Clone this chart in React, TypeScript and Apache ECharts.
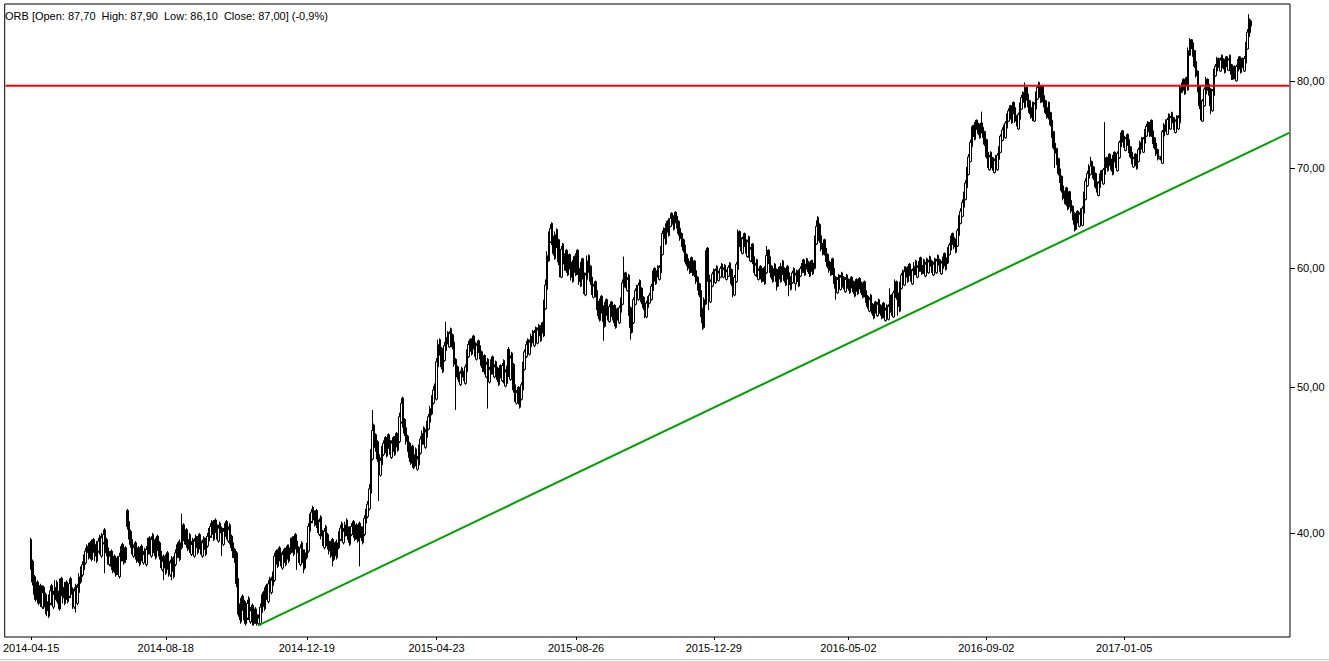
import React, { useEffect, useRef } from "react";
import * as echarts from "echarts";

// ---- texts ----
const headerText = "ORB [Open: 87,70  High: 87,90  Low: 86,10  Close: 87,00] (-0,9%)";
const firstDate = "2014-04-15";
const xLabelDates = ["2014-04-15", "2014-08-18", "2014-12-19", "2015-04-23", "2015-08-26", "2015-12-29", "2016-05-02", "2016-09-02", "2017-01-05"];
const holidays = [
  "2014-04-18", "2014-04-21", "2014-05-01", "2014-06-19", "2014-08-15", "2014-11-11", "2014-12-24", "2014-12-25", "2014-12-26", "2014-12-31",
  "2015-01-01", "2015-01-06", "2015-04-03", "2015-04-06", "2015-05-01", "2015-06-04", "2015-11-11", "2015-12-24", "2015-12-25", "2015-12-31",
  "2016-01-01", "2016-01-06", "2016-03-25", "2016-03-28", "2016-05-03", "2016-05-26", "2016-08-15", "2016-11-01", "2016-11-11", "2016-12-26",
  "2017-01-06", "2017-04-14", "2017-04-17", "2017-05-01", "2017-05-03",
];
const yTickValues = [40, 50, 60, 70, 80];
const yTickLabels = ["40,00", "50,00", "60,00", "70,00", "80,00"];
const yMin = 34.1;
const yMax = 90.0;
const resistanceLevel = 79.4;
// trend line: [candle index, price]; second point lies at the right edge of the plot
const trendLine = [[142, 34.73], [785, 73.87]];

// ---- daily candles, prices in tenths: [open, close, low, high] ----
const ohlc2014 = [
  [396,380,378,397],[383,371,369,384],[374,364,361,375],[361,368,360,371],[371,362,359,372],[359,366,358,368],[369,360,357,370],[357,365,356,369],[368,361,356,369],[364,357,353,365],
  [360,355,352,361],[352,362,351,364],[359,366,358,369],[369,360,358,370],[357,364,356,366],[361,368,360,372],[371,362,360,372],[365,359,356,366],[356,370,355,373],[373,365,363,374],
  [368,362,359,369],[359,368,358,371],[371,363,361,372],[360,366,359,368],[363,370,362,373],[373,364,362,374],[367,360,356,368],[357,366,356,368],[369,362,354,370],[359,368,358,370],
  [365,374,364,376],[371,378,370,380],[375,381,374,383],[378,385,377,387],[382,389,381,391],[392,388,385,393],[385,391,384,394],[394,387,384,395],[384,393,383,396],[396,390,388,397],
  [393,386,383,394],[383,392,382,395],[389,395,388,397],[398,389,387,399],[386,397,385,400],[394,399,393,402],[402,393,376,403],[396,388,386,397],[391,384,381,392],[381,386,380,389],
  [389,380,378,390],[377,383,376,385],[386,378,376,387],[375,382,374,384],[385,377,375,386],[374,386,373,388],[383,390,382,392],[393,385,383,394],[382,388,381,391],[391,384,382,392],
  [414,404,402,415],[407,398,396,408],[401,393,391,402],[396,389,387,397],[386,391,385,393],[394,386,384,395],[383,388,382,390],[391,384,382,392],[381,389,380,391],[392,385,383,393],
  [382,387,381,389],[390,384,382,391],[381,390,380,392],[387,394,386,397],[397,389,387,398],[386,396,385,398],[399,392,390,400],[395,388,386,396],[385,395,384,397],[398,391,389,399],
  [394,386,384,395],[389,381,379,390],[378,383,377,386],[386,379,372,387],[376,385,375,387],[388,380,378,389],[383,378,374,384],[375,382,374,384],[385,377,372,386],[374,384,373,386],
  [381,388,380,390],[385,391,384,393],[394,387,385,395],[384,394,383,396],[391,402,390,412],[405,397,395,406],[394,399,393,401],[402,393,391,403],[390,396,389,398],[399,390,388,400],
  [387,393,386,395],[396,389,387,397],[386,395,385,397],[398,391,389,399],[388,396,387,398],[399,392,390,400],[395,389,387,396],[386,394,385,396],[397,390,388,398],[387,395,386,397],
  [392,398,391,400],[395,401,394,403],[398,404,397,406],[407,399,397,408],[396,405,395,408],[408,402,400,409],[405,398,396,406],[395,403,394,405],[406,400,398,407],[403,396,386,404],
  [393,401,392,403],[398,404,397,406],[407,398,396,408],[395,402,394,404],[405,395,393,406],[398,391,389,399],[394,387,385,395],[390,385,382,391],[388,370,368,389],[373,355,353,374],
  [358,352,350,359],[349,360,348,362],[363,357,355,364],[360,350,348,361],[348,354,347,356],[351,359,350,361],[362,352,350,363],[349,355,348,357],[358,349,347,359],[348,353,347,355],
  [356,350,348,357],[353,348,347,354],[348,351,347,353],[348,357,347,359],[354,362,353,364],[365,359,357,366],[356,366,355,368],[369,363,361,370],[360,370,359,372],[373,368,366,374],
  [365,372,364,374],[369,375,368,377],[372,386,371,388],[389,383,381,390],[380,388,379,390],[391,385,383,392],[388,382,380,389],[379,387,378,389],[390,384,382,391],[381,389,380,391],
  [392,386,384,393],[383,391,382,393],[388,394,387,397],[397,390,388,398],[387,396,386,398],[399,392,390,400],[395,388,378,396],[391,384,382,392],[381,391,380,393],[394,386,384,395],
  [389,382,376,390],[379,388,378,390],[385,392,384,394],[389,404,388,406],[401,410,400,412],[407,413,406,415],[416,408,406,417],
];
const ohlc2015 = [
  [405,411,404,414],[414,405,403,415],[408,402,400,409],
  [399,407,398,409],[410,398,396,411],[401,394,392,402],[391,401,390,403],[404,396,394,405],[399,392,390,400],[395,389,387,396],[386,393,385,395],[396,387,380,397],[384,391,383,393],
  [394,388,386,395],[385,394,384,396],[391,399,390,401],[396,403,395,405],[406,397,395,407],[394,401,393,403],[398,405,397,407],[408,400,398,409],[403,396,394,404],[393,402,392,404],
  [399,404,398,406],[407,399,397,408],[396,402,395,404],[405,398,396,406],[395,403,394,405],[406,400,380,407],[403,397,395,404],[394,402,393,404],[399,409,398,411],[406,413,405,415],
  [410,418,409,420],[415,428,414,431],[425,452,424,455],[448,468,447,483],[472,461,459,473],[465,456,453,466],[460,448,446,461],[451,440,420,452],[437,447,436,449],[444,455,443,457],
  [451,459,450,461],[463,454,452,464],[450,461,449,463],[465,457,455,466],[461,453,451,462],[449,459,448,461],[463,455,453,464],[451,462,450,464],[466,458,456,467],[454,464,453,466],
  [460,478,459,481],[474,488,473,492],[492,472,470,493],[476,466,464,477],[470,460,458,471],[464,455,453,465],[459,449,446,460],[445,453,444,455],[457,446,442,458],[442,451,441,453],
  [455,445,443,456],[441,448,440,450],[444,456,443,458],[452,462,451,464],[458,466,457,468],[470,460,458,471],[456,467,455,469],[463,473,462,475],[469,478,468,480],[474,484,473,486],
  [480,492,479,494],[488,498,487,501],[502,495,493,503],[491,520,490,523],[516,534,515,538],[538,527,525,539],[531,516,514,532],[512,525,511,528],[521,533,520,536],[529,540,528,553],
  [544,536,534,545],[532,543,531,545],[547,538,536,548],[542,532,530,543],[536,518,516,537],[522,512,483,523],[516,508,506,517],[512,506,504,513],[502,511,501,513],[515,508,506,516],
  [512,507,505,513],[503,516,502,518],[512,528,511,530],[524,534,523,537],[538,530,528,539],[526,537,525,539],[541,532,530,542],[536,526,524,537],[522,533,521,535],[537,529,527,538],
  [533,524,522,534],[528,517,515,529],[513,521,512,523],[525,512,510,526],[508,518,507,520],[522,508,484,523],[504,514,503,516],[510,520,509,522],[524,512,510,525],[508,516,507,518],
  [520,511,509,521],[515,506,504,516],[502,513,501,515],[517,509,507,518],[505,517,504,519],[521,505,503,522],[501,512,500,514],[516,503,501,517],[530,510,508,532],[506,523,505,525],
  [527,514,512,528],[518,498,496,519],[502,492,489,503],[488,496,487,498],[500,489,487,501],[485,495,484,497],[491,502,490,504],[498,518,497,520],[514,528,513,530],[524,534,523,537],
  [538,530,528,539],[526,536,525,538],[532,541,531,543],[545,537,535,546],[533,544,532,546],[548,539,537,549],[535,546,534,548],[550,541,539,551],[537,548,536,550],[552,545,543,553],
  [541,568,540,572],[564,585,563,590],[581,612,580,616],[607,630,606,635],[625,638,624,642],[643,625,622,644],[630,614,612,631],[609,632,608,635],[637,622,619,638],[627,606,603,628],
  [611,596,592,612],[592,618,591,621],[623,604,602,624],[599,612,598,614],[617,598,596,618],[594,608,593,610],[613,601,599,614],[606,592,589,607],[588,606,587,608],[611,598,596,612],
  [594,612,593,614],[617,596,594,618],[600,588,585,601],[584,604,583,606],[609,592,590,610],[596,580,577,597],[576,594,575,596],[590,607,589,612],[612,598,596,613],[602,588,585,603],
  [592,578,576,593],[574,584,573,586],[588,576,574,589],[580,566,563,581],[570,558,555,571],[554,571,553,573],[575,562,560,576],[566,553,537,567],[549,568,548,570],[572,560,558,573],
  [564,557,554,565],[553,566,552,568],[570,559,557,571],[555,563,554,565],[567,552,549,568],[548,560,547,562],[564,556,554,565],[552,565,551,567],[561,572,560,574],[568,587,567,590],
  [583,592,582,611],[596,584,582,597],[580,590,579,592],[594,561,558,595],[565,548,538,566],[544,556,543,558],[552,572,551,574],[568,580,567,582],[584,576,574,585],[572,585,571,587],
  [589,578,576,590],[582,570,568,583],[574,565,563,575],[569,561,556,570],[557,569,556,571],[565,573,564,575],[569,576,568,578],[572,584,571,586],[580,596,579,598],[600,590,588,601],
  [586,598,585,600],[602,594,592,603],[590,601,589,603],[596,618,595,621],[613,633,612,636],[638,628,626,639],[623,640,622,643],[645,636,634,646],[631,645,630,648],[640,648,639,653],
  [653,642,640,654],[637,649,636,651],[654,645,643,655],[650,640,638,651],[645,633,631,646],[638,628,626,639],[633,622,620,634],[627,617,615,628],[622,608,606,623],[613,604,602,614],
  [609,600,598,610],[596,605,595,607],[610,598,596,611],[594,602,593,604],[607,594,592,608],[598,588,586,599],[592,582,580,593],[586,576,574,587],[580,560,557,581],[564,552,546,565],
  [548,572,547,574],[568,614,567,617],[619,590,588,620],[594,574,563,595],[570,588,569,590],[584,595,583,597],[599,591,589,600],[587,598,586,600],
];
const ohlc2016 = [
  [602,593,591,603],[589,596,588,598],
  [592,600,591,602],[604,596,594,605],[592,599,591,601],[603,594,592,604],[590,597,589,599],[593,601,592,603],[605,595,593,606],[599,586,584,600],[590,580,574,591],[576,592,575,594],
  [588,604,587,606],[599,630,598,637],[635,624,620,636],[629,619,616,630],[614,628,613,630],[633,622,620,634],[627,616,614,628],[611,625,610,627],[630,612,610,631],[607,618,606,620],
  [623,606,604,624],[611,598,596,612],[594,603,593,605],[608,594,592,609],[590,598,589,600],[602,592,590,603],[588,596,587,598],[600,590,588,601],[586,600,585,602],[596,612,595,621],
  [617,606,604,618],[611,598,596,612],[602,592,590,603],[588,600,587,602],[604,595,593,605],[599,588,580,600],[584,597,583,599],[601,592,590,602],[588,602,587,605],[607,596,594,608],
  [600,589,587,601],[585,598,584,600],[602,592,590,603],[596,585,575,597],[581,591,580,593],[587,596,586,598],[600,590,588,601],[586,594,580,596],[598,588,586,599],[584,597,583,599],
  [593,600,592,602],[596,603,595,605],[608,598,596,609],[594,604,593,606],[609,601,599,610],[606,597,595,607],[593,602,592,604],[607,599,597,608],[595,605,594,608],[600,628,599,631],
  [623,640,622,646],[649,637,635,650],[642,626,624,643],[631,618,616,632],[613,622,612,624],[627,614,612,628],[619,608,606,620],[613,602,600,614],[607,598,596,608],[594,604,593,606],
  [609,596,594,610],[600,588,586,601],[592,582,572,593],[578,590,577,592],[594,585,583,595],[581,592,580,594],[596,588,586,597],[592,583,581,593],[579,590,578,592],[594,586,584,595],
  [590,582,580,591],[578,588,577,590],[592,584,582,593],[588,579,577,589],[575,586,574,588],[590,581,579,591],[577,587,576,589],[591,583,581,592],[587,578,576,588],[574,584,573,586],
  [588,576,574,589],[580,571,569,581],[575,566,564,576],[562,572,561,574],[576,564,562,577],[568,560,558,569],[556,566,555,568],[570,562,560,571],[558,568,557,570],[572,563,561,573],
  [567,560,558,568],[556,565,555,567],[569,558,556,570],[554,563,553,565],[567,559,556,568],[555,566,554,568],[562,572,561,582],[576,561,558,577],[557,578,556,580],[574,584,573,590],
  [588,574,572,589],[578,566,558,579],[562,586,561,588],[582,594,581,596],[598,589,587,599],[585,597,584,602],[601,592,590,602],[588,600,587,602],[604,595,593,605],[599,590,588,600],
  [586,598,585,600],[594,602,593,606],[607,596,594,608],[592,601,591,603],[597,605,596,607],[610,599,597,611],[595,603,594,605],[608,597,595,609],[593,604,592,606],[609,600,598,610],
  [596,606,595,608],[611,602,600,612],[607,598,596,608],[594,604,593,606],[609,600,598,610],[596,607,595,609],[612,603,601,613],[608,599,597,609],[595,605,594,607],[600,609,599,611],
  [614,604,602,615],[599,610,598,612],[605,618,604,620],[613,622,612,624],[617,628,616,631],[633,624,622,634],[629,620,618,630],[615,626,614,628],[621,636,620,638],[631,648,630,651],
  [643,655,642,658],[650,664,649,667],[659,672,658,675],[667,684,666,687],[679,698,678,701],[693,712,692,715],[707,728,706,731],[723,742,722,746],[747,736,734,748],[731,748,730,751],
  [753,744,742,754],[749,738,736,750],[733,745,732,748],[750,740,738,763],[745,735,733,746],[740,726,724,741],[731,712,710,732],[717,703,700,718],[698,712,697,714],[717,706,704,718],
  [711,700,697,712],[695,708,694,710],[713,703,697,714],[698,714,697,716],[709,722,708,724],[717,735,716,737],[730,742,729,745],[747,738,736,748],[733,750,732,752],[744,758,743,761],
  [752,764,751,767],[770,756,754,771],[750,768,749,770],[774,762,760,775],[768,752,750,769],[758,748,746,759],[743,760,742,762],[754,772,753,774],[766,780,765,783],[786,774,772,787],
  [768,786,767,798],[792,778,776,793],[784,770,768,785],[776,762,760,777],[756,768,755,770],[774,758,752,775],[752,772,751,774],[766,784,765,787],[778,792,777,795],[798,780,778,799],
  [774,788,773,795],[794,776,774,795],[782,770,768,783],[776,762,760,777],[756,768,755,770],[774,756,754,775],[762,748,746,763],[753,735,733,754],[740,722,720,741],[727,716,700,728],
  [721,705,703,722],[710,694,692,711],[699,686,684,700],[691,676,674,692],[681,668,666,682],[663,674,662,676],[679,662,660,680],[657,670,656,672],[675,661,659,676],[666,655,653,667],
  [660,648,646,661],[653,642,635,654],[637,650,636,652],[655,645,643,656],[640,652,639,654],[657,646,644,658],[641,658,640,660],[653,672,652,675],[667,686,666,689],[681,694,680,697],
  [689,698,688,704],[693,702,692,712],[707,696,694,708],[701,689,687,702],[694,680,678,695],[685,676,674,686],[671,684,670,686],[679,692,678,694],[697,688,686,698],[683,698,682,700],
  [693,706,692,751],[711,702,700,712],[697,710,696,712],[715,704,702,716],[709,698,696,710],[693,712,692,714],[717,708,706,718],[713,702,700,714],[697,716,696,718],
];
const ohlc2017 = [
  [711,728,710,730],
  [723,736,722,739],[741,730,728,742],[735,724,722,736],[719,732,718,734],[737,726,724,738],[731,718,716,732],[723,712,710,724],[717,706,704,718],[701,710,700,712],[715,704,702,716],
  [699,712,698,714],[707,720,706,722],[715,728,714,730],[733,722,720,734],[717,732,716,734],[727,740,726,743],[735,746,734,749],[751,740,738,752],[735,748,734,751],[753,736,734,754],
  [741,728,726,742],[733,722,720,734],[727,715,713,728],[720,710,708,721],[710,712,709,713],[712,709,708,713],[705,740,704,742],[735,748,734,750],[753,742,740,754],[737,754,736,756],
  [760,748,746,761],[743,756,742,758],[762,750,748,763],[756,744,742,757],[739,752,738,754],[758,748,746,759],[743,756,742,759],[750,792,749,795],[786,796,785,798],[802,790,788,803],
  [784,798,783,800],[804,795,793,805],[789,838,788,842],[832,846,831,854],[852,842,840,853],[848,832,830,849],[838,818,816,839],[824,806,804,825],[812,788,786,813],[794,770,766,795],
  [776,758,753,777],[752,776,751,778],[770,790,769,792],[784,796,783,805],[802,790,788,803],[796,784,782,797],[790,770,760,791],[764,788,763,790],[782,812,781,815],[806,818,805,821],
  [812,822,811,830],[828,818,816,829],[812,826,811,829],[832,821,819,833],[827,816,814,828],[810,824,809,826],[830,819,817,831],[813,826,812,828],[832,814,812,833],[820,808,801,821],
  [802,812,801,814],[818,806,802,819],[800,818,799,820],[812,824,811,827],[830,816,814,831],[810,822,809,824],[828,818,816,829],[812,828,811,831],[822,846,821,849],[840,862,839,866],[856,880,855,886],[877,870,861,879],
];

const LEAD_PAD = 16;
const TOTAL_SLOTS = 802;
const FONT = '11px "Liberation Sans", Arial, sans-serif';

function tradingDays(start: string, n: number): string[] {
  const out: string[] = [];
  const d = new Date(start + "T00:00:00Z");
  const hol = new Set(holidays);
  while (out.length < n) {
    const dow = d.getUTCDay();
    const s = d.toISOString().slice(0, 10);
    if (dow !== 0 && dow !== 6 && !hol.has(s)) out.push(s);
    d.setUTCDate(d.getUTCDate() + 1);
  }
  return out;
}

function buildOption() {
  const candles = [...ohlc2014, ...ohlc2015, ...ohlc2016, ...ohlc2017];
  const n = candles.length;
  const dates = tradingDays(firstDate, n);
  const trail = Math.max(0, TOTAL_SLOTS - LEAD_PAD - n);
  const cats: string[] = [];
  for (let i = 0; i < LEAD_PAD; i++) cats.push("pad" + i);
  cats.push(...dates);
  for (let i = 0; i < trail; i++) cats.push("end" + i);
  const lastCat = cats.length - 1;
  const labelSet = new Set(xLabelDates);
  const showLabel = (_i: number, v: string) => labelSet.has(v);

  const candleData = candles.map((t, i) => [i + LEAD_PAD, t[0] / 10, t[1] / 10, t[2] / 10, t[3] / 10]);

  return {
    animation: false,
    backgroundColor: "#ffffff",
    textStyle: { fontFamily: '"Liberation Sans", Arial, sans-serif' },
    grid: { left: 3, right: 39, top: 4, bottom: 24, show: true, borderColor: "#000", borderWidth: 1, backgroundColor: "transparent", containLabel: false },
    xAxis: {
      type: "category",
      data: cats,
      boundaryGap: true,
      axisLine: { show: false },
      axisTick: { show: true, alignWithLabel: true, interval: showLabel, length: 3, lineStyle: { color: "#000", width: 1 } },
      axisLabel: { interval: showLabel, color: "#000", fontSize: 11, fontFamily: '"Liberation Sans", Arial, sans-serif', margin: 5 },
      splitLine: { show: false },
    },
    yAxis: {
      type: "log",
      logBase: 10,
      min: yMin,
      max: yMax,
      position: "right",
      axisLine: { show: false },
      axisTick: { show: false },
      axisLabel: { show: false },
      splitLine: { show: false },
    },
    graphic: [
      { type: "text", left: 5, top: 10, style: { text: headerText, fill: "#000", font: FONT } },
      { type: "line", shape: { x1: 0, y1: 659.5, x2: 1329, y2: 659.5 }, style: { stroke: "#c4c4c4", lineWidth: 1 } },
    ],
    series: [
      {
        type: "candlestick",
        data: candleData,
        encode: { x: 0, y: [1, 2, 3, 4] },
        barWidth: 2,
        large: false,
        silent: true,
        emphasis: { disabled: true },
        itemStyle: { color: "#ffffff", color0: "#000000", borderColor: "#000000", borderColor0: "#000000", borderColorDoji: "#000000", borderWidth: 1 },
        z: 2,
      },
      {
        type: "line",
        data: [[0, resistanceLevel], [lastCat, resistanceLevel]],
        symbol: "none",
        silent: true,
        lineStyle: { color: "#ff0000", width: 2 },
        z: 3,
      },
      {
        type: "line",
        data: trendLine.map((p) => [p[0] + LEAD_PAD, p[1]]),
        symbol: "none",
        silent: true,
        lineStyle: { color: "#00a000", width: 2 },
        z: 3,
      },
      {
        type: "custom",
        data: yTickValues.map((v) => [0, v]),
        clip: false,
        silent: true,
        z: 5,
        renderItem: (params: any, api: any) => {
          const idx = params.dataIndex;
          const pt = api.coord([0, api.value(1)]);
          const cs = params.coordSys;
          const xr = cs.x + cs.width;
          const y = Math.round(pt[1]) + 0.5;
          return {
            type: "group",
            children: [
              { type: "line", shape: { x1: xr, y1: y, x2: xr + 5, y2: y }, style: { stroke: "#000", lineWidth: 1 } },
              { type: "text", x: xr + 7, y: pt[1], style: { text: yTickLabels[idx], fill: "#000", font: FONT, verticalAlign: "middle", align: "left" } },
            ],
          };
        },
      },
    ],
  };
}

export default function App() {
  const ref = useRef<HTMLDivElement>(null);
  useEffect(() => {
    if (!ref.current) return;
    const chart = echarts.init(ref.current, null, { renderer: "svg" });
    chart.setOption(buildOption() as any);
    return () => chart.dispose();
  }, []);
  return <div ref={ref} style={{ position: "fixed", left: 0, top: 0, width: 1329, height: 661, background: "#fff" }} />;
}
